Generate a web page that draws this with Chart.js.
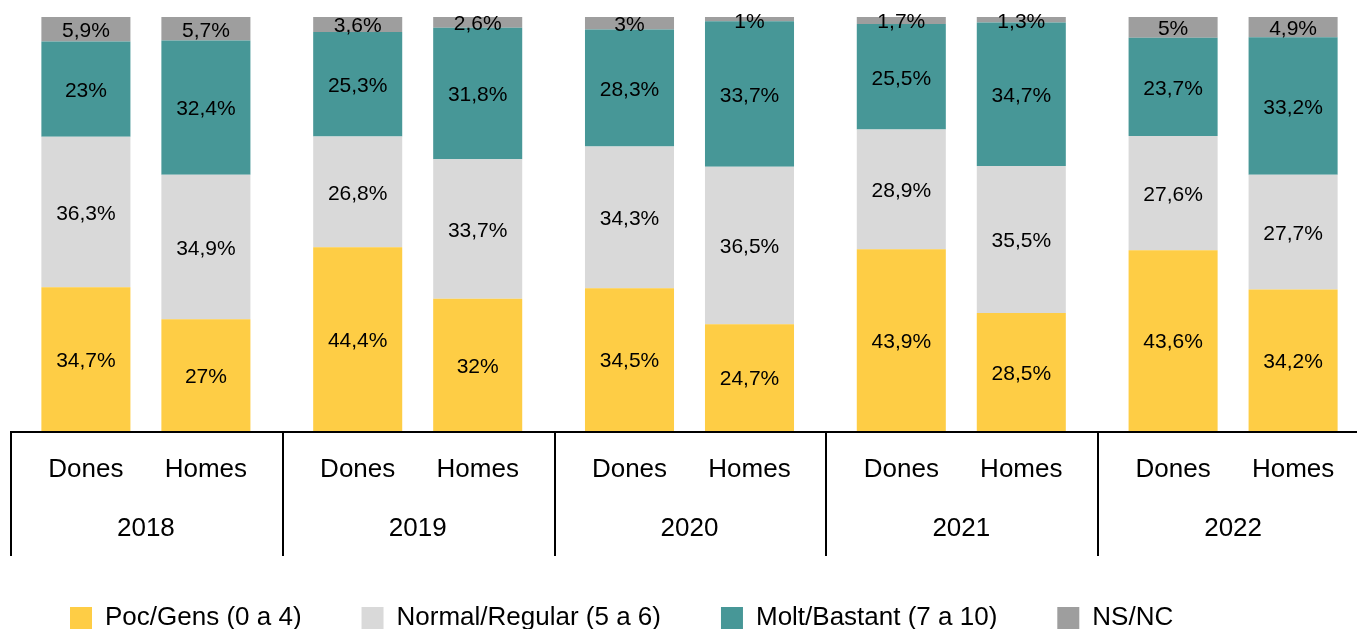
<!DOCTYPE html>
<html>
<head>
<meta charset="utf-8">
<script src="https://cdn.jsdelivr.net/npm/chart.js@4"></script>
<style>
  html, body { margin: 0; padding: 0; overflow: hidden; background: #fff; }
  canvas { display: block; }
</style>
</head>
<body>
<canvas id="chart" width="1369" height="641"></canvas>
<script>
// data (percentages as labelled)
const years = ['2018', '2019', '2020', '2021', '2022'];
const groups = ['Dones', 'Homes'];
const seriesNames = ['Poc/Gens (0 a 4)', 'Normal/Regular (5 a 6)', 'Molt/Bastant (7 a 10)', 'NS/NC'];

const pocDones = [34.7, 44.4, 34.5, 43.9, 43.6];
const pocHomes = [27, 32, 24.7, 28.5, 34.2];
const normalDones = [36.3, 26.8, 34.3, 28.9, 27.6];
const normalHomes = [34.9, 33.7, 36.5, 35.5, 27.7];
const moltDones = [23, 25.3, 28.3, 25.5, 23.7];
const moltHomes = [32.4, 31.8, 33.7, 34.7, 33.2];
const nsncDones = [5.9, 3.6, 3, 1.7, 5];
const nsncHomes = [5.7, 2.6, 1, 1.3, 4.9];

const colors = ['#FECD45', '#D9D9D9', '#479797', '#9E9E9E'];
const FONT = '"Liberation Sans", Arial, Helvetica, sans-serif';

const raw = {
  Dones: [pocDones, normalDones, moltDones, nsncDones],
  Homes: [pocHomes, normalHomes, moltHomes, nsncHomes]
};

// 100% stacked: each bar is scaled to its own total
function shares(list) {
  const totals = years.map((y, i) => list.reduce((s, arr) => s + arr[i], 0));
  return list.map(arr => arr.map((v, i) => v / totals[i] * 100));
}

const datasets = [];
groups.forEach(g => {
  const sh = shares(raw[g]);
  sh.forEach((arr, k) => {
    datasets.push({
      label: seriesNames[k],
      data: arr,
      raw: raw[g][k],
      group: g,
      stack: g,
      backgroundColor: colors[k],
      borderWidth: 0,
      categoryPercentage: 0.883,
      barPercentage: 0.742
    });
  });
});

const fmt = v => String(v).replace('.', ',') + '%';

// labels in the bars, two-level x axis and separators
const decorPlugin = {
  id: 'decor',
  afterDatasetsDraw(chart) {
    const ctx = chart.ctx;
    const area = chart.chartArea;
    const xs = chart.scales.x;
    ctx.save();

    // values inside segments
    ctx.font = '21px ' + FONT;
    ctx.fillStyle = '#000';
    ctx.textAlign = 'center';
    ctx.textBaseline = 'middle';
    chart.data.datasets.forEach((ds, di) => {
      const meta = chart.getDatasetMeta(di);
      meta.data.forEach((el, i) => {
        let y = (el.y + el.base) / 2 + 2;
        if (y < area.top + 5) y = area.top + 5;
        ctx.fillText(fmt(ds.raw[i]), el.x, y);
      });
    });

    // axis line
    ctx.strokeStyle = '#000';
    ctx.lineWidth = 2;
    ctx.beginPath();
    ctx.moveTo(area.left, area.bottom + 1);
    ctx.lineTo(chart.width, area.bottom + 1);
    ctx.stroke();

    // group separators
    const half = (xs.getPixelForValue(1) - xs.getPixelForValue(0)) / 2;
    years.forEach((y, i) => {
      const x = Math.round(xs.getPixelForValue(i) - half) + 1;
      ctx.beginPath();
      ctx.moveTo(x, area.bottom);
      ctx.lineTo(x, area.bottom + 125);
      ctx.stroke();
    });

    // sub labels and years
    ctx.font = '26px ' + FONT;
    chart.data.datasets.forEach((ds, di) => {
      if (di % 4 !== 0) return;
      chart.getDatasetMeta(di).data.forEach(el => {
        ctx.fillText(ds.group, el.x, area.bottom + 39);
      });
    });
    years.forEach((y, i) => {
      ctx.fillText(y, xs.getPixelForValue(i), area.bottom + 98);
    });
    ctx.restore();
  }
};

new Chart(document.getElementById('chart'), {
  type: 'bar',
  data: { labels: years, datasets: datasets },
  options: {
    responsive: false,
    animation: false,
    devicePixelRatio: 1,
    layout: { padding: { left: 10, top: 17, right: 0, bottom: 0 } },
    scales: {
      x: {
        stacked: true,
        grid: { display: false },
        border: { display: false },
        ticks: { display: false },
        afterFit: scale => { scale.height = 114; }
      },
      y: {
        stacked: true,
        display: false,
        min: 0,
        max: 100
      }
    },
    plugins: {
      tooltip: { enabled: false },
      legend: {
        position: 'bottom',
        align: 'start',
        labels: {
          filter: item => item.datasetIndex < 4,
          boxWidth: 22,
          boxHeight: 22,
          padding: 60,
          color: '#000',
          font: { size: 26, family: FONT }
        }
      }
    }
  },
  plugins: [decorPlugin]
});
</script>
</body>
</html>
